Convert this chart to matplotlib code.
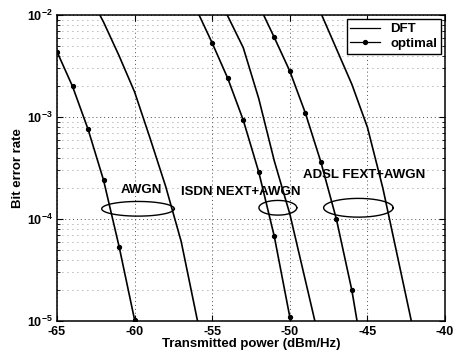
import numpy as np
import matplotlib
matplotlib.use('Agg')
import matplotlib.pyplot as plt

plt.rcParams['font.family'] = 'Liberation Sans'
plt.rcParams['font.weight'] = 'bold'
plt.rcParams['axes.unicode_minus'] = False
plt.rcParams['mathtext.fontset'] = 'custom'
plt.rcParams['mathtext.rm'] = 'Liberation Sans:bold'
plt.rcParams['mathtext.it'] = 'Liberation Sans:bold'
plt.rcParams['mathtext.bf'] = 'Liberation Sans:bold'

# power in dBm/Hz and log10(BER)
awgn_opt_p = [-65, -64, -63, -62, -61, -60]
awgn_opt_ber = [-2.36, -2.70, -3.12, -3.62, -4.27, -4.99]
awgn_dft_p = [-62.24, -62, -61, -60, -59, -58, -57, -56, -55]
awgn_dft_ber = [-2.0, -2.07, -2.40, -2.755, -3.21, -3.68, -4.22, -4.96, -5.7]

isdn_opt_p = [-56, -55, -54, -53, -52, -51, -50, -49]
isdn_opt_ber = [-1.95, -2.275, -2.62, -3.03, -3.54, -4.17, -4.96, -5.8]
isdn_dft_p = [-55, -54, -53, -52, -51, -50, -49, -48]
isdn_dft_ber = [-1.7, -2.01, -2.32, -2.82, -3.43, -3.95, -4.6, -5.25]

adsl_opt_p = [-52, -51, -50, -49, -48, -47, -46, -45]
adsl_opt_ber = [-1.90, -2.22, -2.55, -2.96, -3.44, -4.0, -4.7, -5.6]
adsl_dft_p = [-49, -48, -47, -46, -45, -44, -43, -42]
adsl_dft_ber = [-1.64, -1.98, -2.33, -2.68, -3.1, -3.70, -4.41, -5.12]

# ellipses: centre power, centre log10(BER), half width (dB), half height (decades)
ell_cx = [-59.78, -50.77, -45.58]
ell_cy = [-3.90, -3.89, -3.89]
ell_a = [2.34, 1.22, 2.24]
ell_b = [0.072, 0.072, 0.092]

labels = ['AWGN', 'ISDN NEXT+AWGN', 'ADSL FEXT+AWGN']
label_x = [-59.55, -53.17, -45.22]
label_y = [-3.716, -3.735, -3.569]

fig = plt.figure(figsize=(4.55, 3.58), dpi=100)
ax = fig.add_axes([0.1253, 0.1034, 0.8527, 0.8547])

lw = 1.2
for p, b in [(awgn_dft_p, awgn_dft_ber), (isdn_dft_p, isdn_dft_ber), (adsl_dft_p, adsl_dft_ber)]:
    ax.semilogy(p, 10.0 ** np.array(b), color='k', lw=lw)
for p, b in [(awgn_opt_p, awgn_opt_ber), (isdn_opt_p, isdn_opt_ber), (adsl_opt_p, adsl_opt_ber)]:
    ax.semilogy(p, 10.0 ** np.array(b), color='k', lw=lw, marker='o', ms=2.8)

# ellipses drawn in (dB, log10 BER) space
t = np.linspace(0, 2 * np.pi, 200)
for cx, cy, a, b in zip(ell_cx, ell_cy, ell_a, ell_b):
    ax.plot(cx + a * np.cos(t), 10.0 ** (cy + b * np.sin(t)), color='k', lw=1.0)

for s, x, y in zip(labels, label_x, label_y):
    ax.text(x, 10.0 ** y, s, ha='center', va='center', fontsize=9.5, fontweight='bold')

ax.set_xlim(-65, -40)
ax.set_ylim(1e-5, 1e-2)
ax.set_xticks([-65, -60, -55, -50, -45, -40])

ax.grid(True, which='major', color='0.3', lw=0.7, linestyle=(0, (1, 3)))
ax.grid(True, which='minor', axis='y', color='0.45', lw=0.6, linestyle=(0, (1, 5)))

ax.tick_params(which='both', direction='in', top=True, right=True, labelsize=9)
ax.tick_params(axis='x', pad=3.5)
ax.tick_params(axis='y', pad=3)
ax.tick_params(which='major', length=4)
ax.tick_params(which='minor', length=2)
for sp in ax.spines.values():
    sp.set_linewidth(1.1)

ax.set_xlabel('Transmitted power (dBm/Hz)', fontsize=9.5, fontweight='bold', labelpad=0)
ax.set_ylabel('Bit error rate', fontsize=9.5, fontweight='bold', labelpad=2)

h1, = ax.plot([], [], color='k', lw=0.9)
h2, = ax.plot([], [], color='k', lw=0.9, marker='o', ms=2.8)
leg = ax.legend([h1, h2], ['DFT', 'optimal'], loc='upper right', fontsize=9.5,
                fancybox=False, framealpha=1, edgecolor='k', borderaxespad=0.3,
                handlelength=2.2, labelspacing=0.2, borderpad=0.3)
leg.get_frame().set_linewidth(1.0)

fig.savefig('out.png', dpi=100)
